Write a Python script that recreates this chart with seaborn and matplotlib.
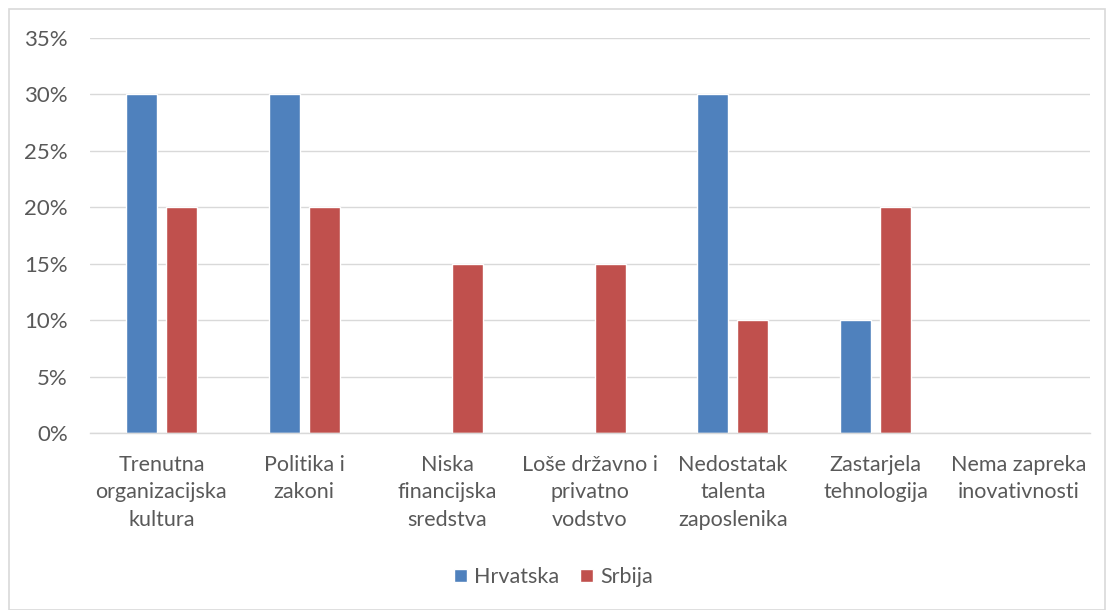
import matplotlib
matplotlib.use("Agg")
import matplotlib.pyplot as plt
import matplotlib.ticker as mticker
from matplotlib.patches import Rectangle
import seaborn as sns
import pandas as pd

categories = [
    "Trenutna organizacijska kultura",
    "Politika i zakoni",
    "Niska financijska sredstva",
    "Loše državno i privatno vodstvo",
    "Nedostatak talenta zaposlenika",
    "Zastarjela tehnologija",
    "Nema zapreka inovativnosti",
]
tick_labels = [
    "Trenutna\norganizacijska\nkultura",
    "Politika i\nzakoni",
    "Niska\nfinancijska\nsredstva",
    "Loše državno i\nprivatno\nvodstvo",
    "Nedostatak\ntalenta\nzaposlenika",
    "Zastarjela\ntehnologija",
    "Nema zapreka\ninovativnosti",
]
series_names = ["Hrvatska", "Srbija"]
hrvatska = [0.30, 0.30, 0.0, 0.0, 0.30, 0.10, 0.0]
srbija = [0.20, 0.20, 0.15, 0.15, 0.10, 0.20, 0.0]
y_ticks = [0, 0.05, 0.10, 0.15, 0.20, 0.25, 0.30, 0.35]

df = pd.DataFrame({
    "kategorija": categories * 2,
    "zemlja": [series_names[0]] * len(categories) + [series_names[1]] * len(categories),
    "udio": hrvatska + srbija,
})

sns.set_style("white")
plt.rcParams["font.family"] = ["Lato", "DejaVu Sans"]
text_color = "#595959"
fs = 15.5

fig = plt.figure(figsize=(11.07, 6.10), dpi=100)
ax = fig.add_axes([90 / 1107, 1 - 433 / 610, 1000 / 1107, 395 / 610])

sns.barplot(data=df, x="kategorija", y="udio", hue="zemlja", order=categories,
            hue_order=series_names, palette=["#4F81BD", "#C0504D"],
            width=0.56, gap=0.225, ax=ax, errorbar=None, saturation=1)

ax.set_ylim(0, 0.35)
ax.set_xlim(-0.5, len(categories) - 0.5)
ax.set_yticks(y_ticks)
ax.yaxis.set_major_formatter(mticker.FuncFormatter(lambda v, p: f"{v*100:.0f}%"))
ax.yaxis.grid(True, color="#D9D9D9", linewidth=1)
ax.set_axisbelow(True)
for s in ["top", "right", "left"]:
    ax.spines[s].set_visible(False)
ax.spines["bottom"].set_color("#D9D9D9")
ax.spines["bottom"].set_linewidth(1)
ax.set_xticks(range(len(categories)))
ax.set_xticklabels(tick_labels, fontsize=fs, color=text_color, linespacing=1.45)
ax.tick_params(axis="y", labelsize=16, labelcolor=text_color, length=0, pad=16)
ax.tick_params(axis="x", length=0, pad=16)
ax.set_xlabel("")
ax.set_ylabel("")

leg = ax.legend(loc="center", bbox_to_anchor=(0.5, (610 - 577) / 610), bbox_transform=fig.transFigure,
                ncol=2, frameon=False, fontsize=fs, handlelength=0.6, handleheight=0.6,
                handletextpad=0.3, columnspacing=1.0)
for t in leg.get_texts():
    t.set_color(text_color)

fig.patches.append(Rectangle((9 / 1107, 0), 1096 / 1107, 601 / 610, transform=fig.transFigure,
                             fill=False, edgecolor="#D9D9D9", linewidth=1.2, zorder=-1))

fig.savefig("out.png", dpi=100, facecolor="white")
